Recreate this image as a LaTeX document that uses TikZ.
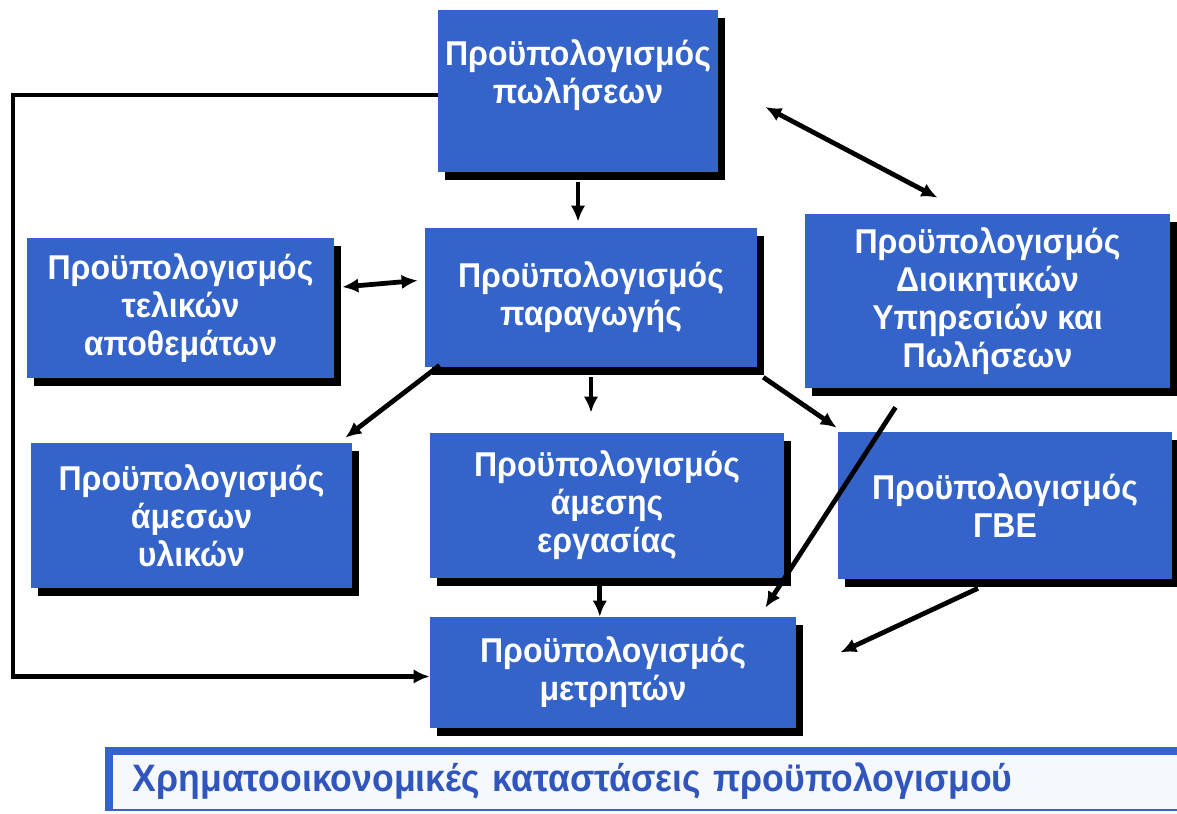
\documentclass[tikz,border=0pt]{standalone}
\usepackage{fontspec}
\setmainfont{Liberation Sans}[FakeStretch=0.93]
\usetikzlibrary{arrows.meta,shadows}
\definecolor{boxblue}{RGB}{52,99,201}
\definecolor{bandfill}{RGB}{245,248,252}
\definecolor{bandtext}{RGB}{48,86,190}

\begin{document}
\begin{tikzpicture}[x=0.025cm,y=-0.025cm,
	budget/.style={fill=boxblue,text=white,align=center,inner sep=0pt,
		font=\bfseries\fontsize{24.5}{27}\selectfont,
		drop shadow={fill=black,opacity=1,shadow xshift=0.18cm,shadow yshift=-0.2cm}},
	flow/.style={line width=3.4pt,-{Latex[length=0.4cm,width=0.36cm]}},
	biflow/.style={line width=3.4pt,{Latex[length=0.4cm,width=0.36cm]}-{Latex[length=0.4cm,width=0.36cm]}},
	band/.style={fill=bandfill,draw=boxblue,line width=1.2pt,anchor=west,inner xsep=0.575cm,
		text width=25.875cm,minimum height=1.45cm,align=left,text=bandtext,
		font=\bfseries\fontsize{27.2}{30}\selectfont}]
	\useasboundingbox (0,0) rectangle (1177,814);
	\node[budget,minimum width=7cm,minimum height=4.05cm] (sales) at (578,91) {Προϋπολογισμός\\πωλήσεων\\ \mbox{}};
	\node[budget,minimum width=8.3cm,minimum height=3.475cm] (prod) at (591,297.5) {Προϋπολογισμός\\παραγωγής};
	\node[budget,minimum width=7.675cm,minimum height=3.5cm] (inv) at (180.5,308) {Προϋπολογισμός\\τελικών\\αποθεμάτων};
	\node[budget,minimum width=9.125cm,minimum height=4.35cm] (admin) at (987.5,301) {Προϋπολογισμός\\Διοικητικών\\Υπηρεσιών και\\Πωλήσεων};
	\node[budget,minimum width=8.025cm,minimum height=3.625cm] (mat) at (191.5,515.5) {Προϋπολογισμός\\άμεσων\\υλικών};
	\node[budget,minimum width=8.85cm,minimum height=3.625cm] (labor) at (607,505.5) {Προϋπολογισμός\\άμεσης\\εργασίας};
	\node[budget,minimum width=8.35cm,minimum height=3.675cm] (gbe) at (1005,505.5) {Προϋπολογισμός\\ΓΒΕ};
	\node[budget,minimum width=9.15cm,minimum height=2.775cm] (cash) at (613,672.5) {Προϋπολογισμός\\μετρητών};
	\node[band] (title) at (109,781) {Χρηματοοικονομικές καταστάσεις προϋπολογισμού};
	\draw[boxblue,line width=0.2cm] (title.north east) -- (title.north west) -- (title.south west);
	\coordinate (lft) at (13,400);
	\draw[flow] ([yshift=-0.1cm]sales.west) -| (lft) |- ([yshift=-0.1cm]cash.west);
	\draw[flow,shorten <=0.25cm,shorten >=0.15cm] (sales.south) -- (sales.south |- prod.north);
	\draw[biflow] ([shift={(47,16)}]sales.east) -- ([shift={(-50,-16)}]admin.north);
	\draw[biflow] ([shift={(8,-21)}]inv.east) -- ([shift={(-7,-17)}]prod.west);
	\draw[flow] ([shift={(15,-2)}]prod.south west) -- ([shift={(-7,-5)}]mat.north east);
	\draw[flow,shorten <=0.25cm,shorten >=0.5cm] (prod.south) -- (prod.south |- labor.north);
	\draw[flow] ([shift={(6,10)}]prod.south east) -- ([shift={(-1,-4)}]gbe.north west);
	\draw[flow] ([shift={(-92,19)}]admin.south) -- ([shift={(-31,-9)}]cash.north east);
	\draw[flow] ([shift={(-27,9)}]gbe.south) -- ([shift={(44,-20)}]cash.east);
	\draw[flow,shorten <=0.18cm] ([xshift=-0.18cm]labor.south) -- ([xshift=-0.18cm]labor.south |- cash.north);
\end{tikzpicture}
\end{document}
